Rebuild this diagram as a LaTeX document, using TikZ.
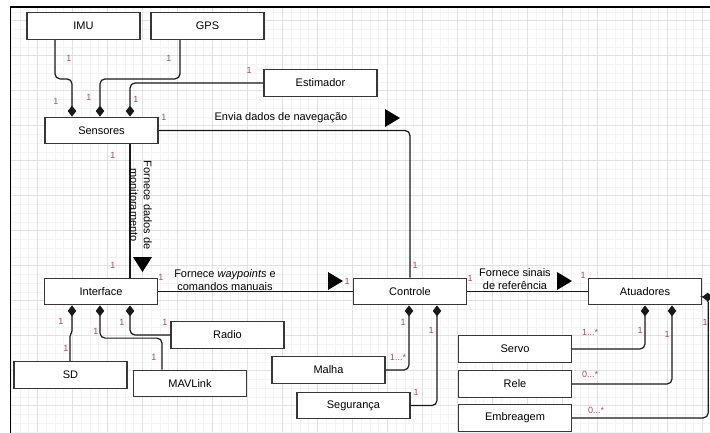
\documentclass[tikz,border=0pt]{standalone}
\usepackage{fontspec}
\setmainfont{Liberation Sans}
\usetikzlibrary{arrows.meta}
\definecolor{boxline}{RGB}{55,55,55}
\definecolor{multc}{RGB}{165,75,100}
\definecolor{gridminor}{RGB}{244,244,244}
\definecolor{gridmajor}{RGB}{225,225,225}
\begin{document}
\begin{tikzpicture}[x=1pt,y=-1pt,
  box/.style={draw=boxline,line width=1.3pt,fill=white,minimum width=113pt,
    minimum height=26.5pt,inner sep=0pt,font=\fontsize{11}{12}\selectfont},
  link/.style={draw=black!90,line width=1.2pt,rounded corners=5pt},
  comp/.style={link,-{Diamond[length=11pt,width=8.5pt]}},
  mult/.style={text=multc,font=\fontsize{9}{10}\selectfont,inner sep=0pt},
  assoc/.style={font=\fontsize{11}{13.5}\selectfont,align=center,inner sep=0pt}]
\useasboundingbox (0,0) rectangle (710,432);
\begin{scope}
\clip (0,0) rectangle (710,432);
% background grid inside the frame
\begin{scope}
  \clip (10.5,7) rectangle (710,432);
  \foreach \i in {0,...,81} {
    \draw[gridminor,line width=0.6pt] ({2.3+8.75*\i},7) -- ({2.3+8.75*\i},432);
  }
  \foreach \j in {-2,...,48} {
    \draw[gridminor,line width=0.6pt] (10,{20.7+8.75*\j}) -- (710,{20.7+8.75*\j});
  }
  \foreach \i in {0,...,20} {
    \draw[gridmajor,line width=0.7pt] ({2.3+35*\i},7) -- ({2.3+35*\i},432);
  }
  \foreach \j in {0,...,12} {
    \draw[gridmajor,line width=0.7pt] (10,{20.7+35*\j}) -- (710,{20.7+35*\j});
  }
\end{scope}
% frame
\draw[line width=1.5pt] (10.5,440) -- (10.5,7) -- (720,7);

% classes
\node[box] (imu)   at (83.5,26)    {IMU};
\node[box] (gps)   at (207.5,26)   {GPS};
\node[box] (est)   at (320.5,83)   {Estimador};
\node[box] (sens)  at (101.5,130.5){Sensores};
\node[box] (intf)  at (101,291.5)  {Interface};
\node[box] (radio) at (227.5,335)  {Radio};
\node[box] (sd)    at (70.5,375)   {SD};
\node[box] (mav)   at (190,383.5)  {MAVLink};
\node[box] (ctrl)  at (410,291.5)  {Controle};
\node[box] (atu)   at (645,291.5)  {Atuadores};
\node[box] (malha) at (328.5,370)  {Malha};
\node[box] (seg)   at (353.5,405.5){Segurança};
\node[box] (servo) at (515,349)    {Servo};
\node[box] (rele)  at (515,384)    {Rele};
\node[box] (emb)   at (515,418)    {Embreagem};

% compositions into Sensores
\draw[comp] ([xshift=-28.5pt]imu.south) -- ++(0,39) -| ([xshift=-29.5pt]sens.north);
\draw[comp] ([xshift=-27.5pt]gps.south) -- ++(0,39) -| ([xshift=-1.5pt]sens.north);
\draw[comp] (est.west) -| ([xshift=28.5pt]sens.north);

% associations
\draw[link] (sens.east) -| (ctrl.north);
\draw[link] ([xshift=28.5pt]sens.south) -- ([xshift=29pt]intf.north);
\draw[link] (intf.east) -- (ctrl.west);
\draw[link] (ctrl.east) -- (atu.west);

% compositions into Interface
\draw[comp,rounded corners=1.5pt] ([xshift=-0.5pt]sd.north) -- ++(0,-26) -- ++(2,-3) -- ([xshift=-29pt]intf.south);
\draw[comp] ([xshift=-28pt]mav.north) -- ++(0,-31.5) -| ([xshift=-1pt]intf.south);
\draw[comp] (radio.west) -| ([xshift=29pt]intf.south);

% compositions into Controle
\draw[comp] (malha.east) -| ([xshift=-1pt]ctrl.south);
\draw[comp] (seg.east) -| ([xshift=27pt]ctrl.south);

% compositions into Atuadores
\draw[comp] (servo.east) -| (atu.south);
\draw[comp] (rele.east) -| ([xshift=27pt]atu.south);
\draw[comp] (emb.east) -- ++(136,0) |- ([yshift=-5.5pt]atu.east);

% association names and reading direction
\node[assoc] (lnav) at (281,118) {Envia dados de navegação};
\fill (385,109) -- (400,118) -- (385,127) -- cycle;
\node[assoc,rotate=-90] (lmon) at (141,205) {Fornece dados de\\monitoramento};
\fill (133,257) -- (152,257) -- (142.5,272) -- cycle;
\node[assoc] (lway) at (225,280) {Fornece \textit{waypoints} e\\comandos manuais};
\fill (328,272) -- (343,281) -- (328,290) -- cycle;
\node[assoc] (lref) at (515,279) {Fornece sinais\\de referência};
\fill (557,272) -- (572,281) -- (557,290) -- cycle;

% multiplicities
\node[mult] (m1)  at (69,58)   {1};
\node[mult] (m2)  at (56,101)  {1};
\node[mult] (m3)  at (169,58)  {1};
\node[mult] (m4)  at (89,97)   {1};
\node[mult] (m5)  at (249,70)  {1};
\node[mult] (m6)  at (136,99)  {1};
\node[mult] (m7)  at (164,117) {1};
\node[mult] (m8)  at (415,265) {1};
\node[mult] (m9)  at (113,155) {1};
\node[mult] (m10) at (113,265) {1};
\node[mult] (m11) at (161,277) {1};
\node[mult] (m12) at (347,281) {1};
\node[mult] (m13) at (470,278) {1};
\node[mult] (m14) at (583,275) {1};
\node[mult] (m15) at (61,321)  {1};
\node[mult] (m16) at (66,348)  {1};
\node[mult] (m17) at (96,331)  {1};
\node[mult] (m18) at (154,357) {1};
\node[mult] (m19) at (122,322) {1};
\node[mult] (m20) at (165,322) {1};
\node[mult] (m21) at (398,357) {1...*};
\node[mult] (m22) at (403,322) {1};
\node[mult] (m23) at (416,392) {1};
\node[mult] (m24) at (431,330) {1};
\node[mult] (m25) at (590,332) {1...*};
\node[mult] (m26) at (640,330) {1};
\node[mult] (m27) at (590,374) {0...*};
\node[mult] (m28) at (667,334) {1};
\node[mult] (m29) at (596,410) {0...*};
\node[mult] (m30) at (705,322) {1};
\end{scope}
\end{tikzpicture}
\end{document}
